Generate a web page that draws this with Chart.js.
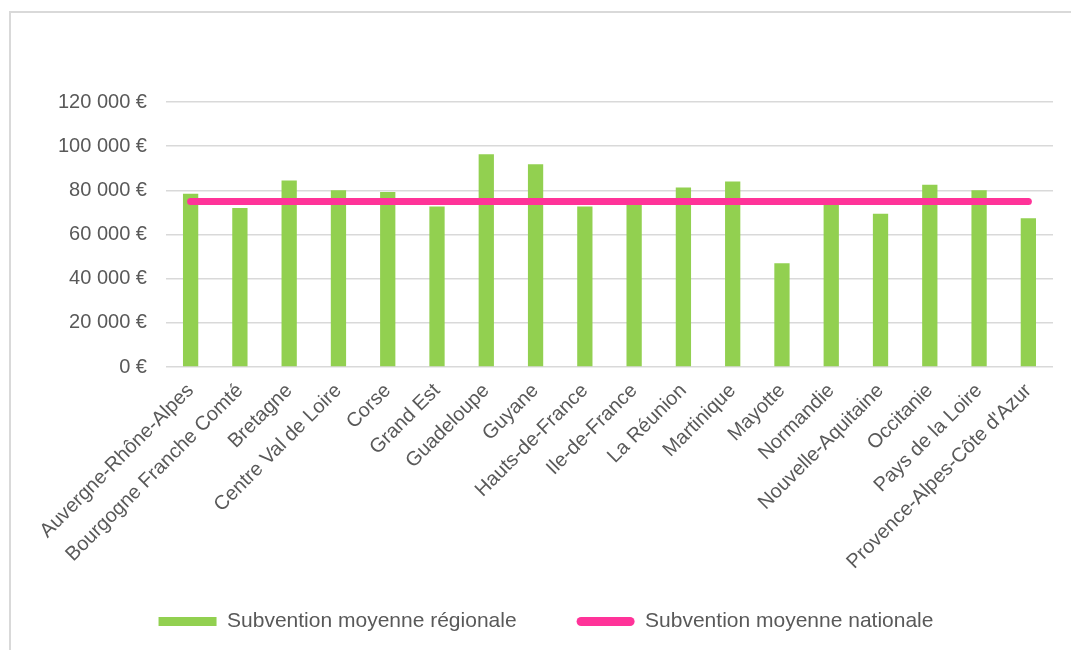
<!DOCTYPE html>
<html>
<head>
<meta charset="utf-8">
<script src="https://cdn.jsdelivr.net/npm/chart.js@4"></script>
<style>
    body { margin: 0; background: #fff; overflow: hidden; }
    #box {
        position: absolute;
        left: 9px;
        top: 11px;
        border-top: 2px solid #d9d9d9;
        border-left: 2px solid #d9d9d9;
    }
</style>
</head>
<body>
<div id="box"><canvas id="chart" width="1088" height="637"></canvas></div>
<script>
// Regions (x axis)
const regions = [
    "Auvergne-Rhône-Alpes", "Bourgogne Franche Comté", "Bretagne", "Centre Val de Loire",
    "Corse", "Grand Est", "Guadeloupe", "Guyane", "Hauts-de-France", "Ile-de-France",
    "La Réunion", "Martinique", "Mayotte", "Normandie", "Nouvelle-Aquitaine",
    "Occitanie", "Pays de la Loire", "Provence-Alpes-Côte d'Azur"
];

// Average subsidy per region (bars)
const regionalValues = [
    78500, 72000, 84500, 80000, 79300, 72700, 96300, 91800, 72700, 75500,
    81300, 84000, 47000, 74500, 69400, 82500, 80000, 67400
];

// National average (line)
const nationalValues = [
    75000, 75000, 75000, 75000, 75000, 75000, 75000, 75000, 75000, 75000,
    75000, 75000, 75000, 75000, 75000, 75000, 75000, 75000
];

// Y axis ticks
const yTicks = [0, 20000, 40000, 60000, 80000, 100000, 120000];

const seriesNames = ["Subvention moyenne régionale", "Subvention moyenne nationale"];

const green = "#92d050";
const pink = "#ff3399";
const textColor = "#595959";
const gridColor = "#d9d9d9";

Chart.defaults.font.family = "'Liberation Sans', Arial, sans-serif";
Chart.defaults.font.size = 20;
Chart.defaults.color = textColor;

function euro(v) {
    return String(v).replace(/\B(?=(\d{3})+(?!\d))/g, " ") + " €";
}

let ctx = document.getElementById("chart").getContext("2d");

new Chart(ctx, {
    data: {
        labels: regions,
        datasets: [
            {
                type: "bar",
                label: seriesNames[0],
                data: regionalValues,
                backgroundColor: green,
                barPercentage: 0.31,
                categoryPercentage: 1,
                order: 2
            },
            {
                type: "line",
                label: seriesNames[1],
                data: nationalValues,
                borderColor: pink,
                backgroundColor: pink,
                borderWidth: 7,
                borderCapStyle: "round",
                pointRadius: 0,
                tension: 0,
                order: 1
            }
        ]
    },
    options: {
        responsive: false,
        animation: false,
        layout: {
            padding: { left: 28, right: 46, top: 89, bottom: 8 }
        },
        scales: {
            x: {
                grid: { display: false },
                border: { display: false },
                ticks: {
                    minRotation: 45,
                    maxRotation: 45,
                    autoSkip: false,
                    padding: 4,
                    color: textColor
                },
                // let the rotated labels run into the legend's top padding
                afterFit: scale => {
                    scale.height -= 27;
                    scale._computeLabelArea = () => undefined;
                }
            },
            y: {
                min: 0,
                max: 120000,
                afterBuildTicks: axis => {
                    axis.ticks = yTicks.map(v => ({ value: v }));
                },
                grid: { color: gridColor, lineWidth: 1.5, drawTicks: false },
                border: { display: false },
                ticks: {
                    padding: 19,
                    color: textColor,
                    callback: v => euro(v)
                }
            }
        },
        plugins: {
            tooltip: { enabled: false },
            legend: {
                position: "bottom",
                labels: {
                    boxWidth: 58,
                    boxHeight: 9,
                    padding: 60,
                    font: { size: 21 },
                    color: textColor,
                    useBorderRadius: true,
                    generateLabels: chart => chart.data.datasets.map((ds, i) => ({
                        text: ds.label,
                        fillStyle: i === 0 ? green : pink,
                        strokeStyle: i === 0 ? green : pink,
                        lineWidth: 0,
                        borderRadius: i === 0 ? 0 : 4.5,
                        fontColor: textColor,
                        datasetIndex: i
                    }))
                }
            }
        }
    }
});
</script>
</body>
</html>
